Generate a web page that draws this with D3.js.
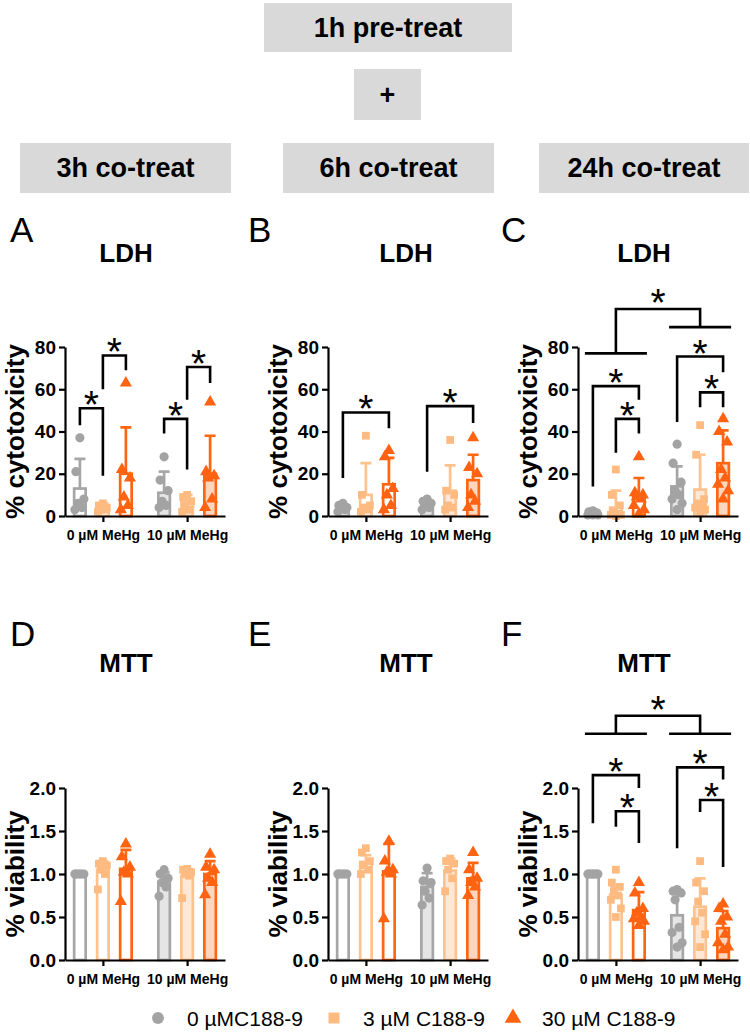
<!DOCTYPE html>
<html lang="en">
<head>
<meta charset="UTF-8" />
<title>LDH / MTT co-treatment</title>
<script src="https://d3js.org/d3.v7.min.js"></script>
<style>
  body { margin: 0; background: #fff; }
  svg { display: block; font-family: "Liberation Sans", Arial, sans-serif; }
</style>
</head>
<body>
<script>
// categories
const groups = ["0 µM MeHg", "10 µM MeHg"];
const series = ["0 µMC188-9", "3 µM C188-9", "30 µM C188-9"];
const ldhTicks = [0, 20, 40, 60, 80];
const mttTicks = [0, 0.5, 1.0, 1.5, 2.0];

// LDH 3h (A) : [group][series]
const ldh3hMean = [[13, 4, 20], [11, 7, 20]];
const ldh3hSd = [[14, 2, 22], [10, 3, 18]];
const ldh3hPts = [
  [[37, 21, 8, 6, 4, 3], [6, 5, 4, 3, 3, 2], [63, 22, 18, 9, 5, 3]],
  [[28, 17, 12, 7, 5, 4], [10, 9, 7, 5, 3, 2], [54, 21, 19, 18, 8, 4]]
];
// [group, seriesA, seriesB, legA, legB, top]
const ldh3hSig = [[0, 0, 1, 43, 19, 51], [0, 1, 2, 60, 69, 76], [1, 0, 1, 39, 22, 46], [1, 1, 2, 55, 63, 70.5]];

// LDH 6h (B)
const ldh6hMean = [[4, 10, 15], [5, 12, 17]];
const ldh6hSd = [[1.5, 15, 12.5], [1.5, 12, 12]];
const ldh6hPts = [
  [[6, 5, 4, 4, 3, 2], [38, 10, 5, 4, 3, 2], [31, 28, 13, 10, 5, 3]],
  [[8, 7, 6, 5, 4, 3], [36, 12, 10, 5, 4, 3], [37, 23, 20, 10, 7, 4]]
];
const ldh6hSig = [[0, 0, 2, 18, 41.5, 49], [1, 0, 2, 21, 44, 52]];

// LDH 24h (C)
const ldh24hMean = [[1, 4, 9.5], [14, 12.5, 25]];
const ldh24hSd = [[0.8, 8, 8.5], [9.5, 16.5, 15.5]];
const ldh24hPts = [
  [[2.5, 2, 1.5, 1, 1, 0.5, 0.5, 0.5], [22, 10, 5, 2, 1, 0.5, 0.5, 0], [28, 11, 10, 9, 8, 5, 3, 1]],
  [[34, 25, 16, 12, 10, 8, 6, 3], [43, 29, 8, 6, 5, 4, 3, 2], [46, 40, 35, 22, 18, 15, 12, 8]]
];
const ldh24hSig = [[0, 0, 2, 14, 55, 61.5], [0, 1, 2, 30, 39, 46], [1, 0, 2, 44.5, 68, 75.5], [1, 1, 2, 51.5, 51.5, 58.5]];
// [left group line, right group line, top]
const ldh24hGroupSig = [77, 89.4, 98];

// MTT 3h (D)
const mtt3hMean = [[1.0, 1.05, 1.06], [0.91, 0.98, 1.0]];
const mtt3hSd = [[0, 0.1, 0.22], [0.11, 0.08, 0.15]];
const mtt3hPts = [
  [[1, 1, 1, 1, 1, 1], [1.15, 1.12, 1.1, 1.05, 1.0, 0.82], [1.35, 1.2, 1.08, 1.02, 1.0, 0.68]],
  [[1.05, 1.0, 0.95, 0.9, 0.85, 0.74], [1.06, 1.05, 1.02, 1.0, 0.98, 0.72], [1.23, 1.08, 1.05, 0.95, 0.9, 0.76]]
];

// MTT 6h (E)
const mtt6hMean = [[1.0, 1.14, 1.03], [0.85, 1.04, 0.95]];
const mtt6hSd = [[0, 0.08, 0.32], [0.16, 0.14, 0.18]];
const mtt6hPts = [
  [[1, 1, 1, 1, 1, 1], [1.3, 1.25, 1.15, 1.1, 1.05, 1.0], [1.38, 1.15, 1.05, 1.02, 1.0, 0.48]],
  [[1.07, 0.92, 0.9, 0.8, 0.72, 0.64], [1.18, 1.15, 1.12, 1.05, 0.95, 0.8], [1.25, 1.05, 0.95, 0.9, 0.85, 0.75]]
];

// MTT 24h (F)
const mtt24hMean = [[1.0, 0.76, 0.58], [0.52, 0.62, 0.37]];
const mtt24hSd = [[0, 0.09, 0.21], [0.28, 0.33, 0.2]];
const mtt24hPts = [
  [[1, 1, 1, 1, 1, 1, 1, 1], [1.05, 0.9, 0.85, 0.8, 0.75, 0.7, 0.6, 0.5], [0.9, 0.78, 0.6, 0.55, 0.5, 0.48, 0.45, 0.4]],
  [[0.82, 0.8, 0.78, 0.7, 0.38, 0.32, 0.2, 0.15], [1.15, 0.9, 0.8, 0.68, 0.55, 0.45, 0.3, 0.15], [0.65, 0.6, 0.5, 0.45, 0.3, 0.2, 0.15, 0.12]]
];
const mtt24hSig = [[0, 0, 2, 1.59, 2.0, 2.15], [0, 1, 2, 1.55, 1.36, 1.73], [1, 0, 2, 1.3, 2.1, 2.24], [1, 1, 2, 1.72, 1.08, 1.86]];
const mtt24hGroupSig = [2.63, 2.63, 2.84];

// header boxes
const topBoxes = ["1h pre-treat", "+"];
const coTreat = ["3h co-treat", "6h co-treat", "24h co-treat"];

// styling
const strokeCol = ["#a6a6a6", "#fdc28e", "#ff6611"];
const pointCol = ["#a3a3a3", "#fdbb82", "#ff6311"];
const fillCol = [["#ffffff", "#ffffff", "#ffffff"], ["#e5e5e5", "#fde8d6", "#fdd6bf"]];
const symbols = [d3.symbolCircle, d3.symbolSquare, d3.symbolTriangle];
const symSize = [66, 60, 64];

const svg = d3.select("body").append("svg")
  .attr("width", 750).attr("height", 1033);

// ---- header boxes ----
const boxFill = "#d9d9d9";
const hdr = [
  {t: topBoxes[0], x: 264, y: 3, w: 248, h: 49, ty: 37},
  {t: topBoxes[1], x: 354, y: 69, w: 67, h: 51, ty: 104},
  {t: coTreat[0], x: 20, y: 143, w: 211, h: 50, ty: 177},
  {t: coTreat[1], x: 283, y: 143, w: 211, h: 50, ty: 177},
  {t: coTreat[2], x: 539, y: 143, w: 210, h: 50, ty: 177}
];
hdr.forEach(b => {
  svg.append("rect").attr("x", b.x).attr("y", b.y).attr("width", b.w).attr("height", b.h)
    .attr("fill", boxFill);
  svg.append("text").attr("x", b.x + b.w / 2).attr("y", b.ty)
    .attr("text-anchor", "middle").attr("font-size", 27).attr("font-weight", "bold")
    .text(b.t);
});

// ---- panels ----
const rows = [
  {yTop: 347, yBot: 516, titleY: 262, letterY: 242, domain: [0, 80], ticks: ldhTicks,
   fmt: d3.format("d"), ylab: "% cytotoxicity", title: "LDH"},
  {yTop: 788, yBot: 960, titleY: 672, letterY: 646, domain: [0, 2], ticks: mttTicks,
   fmt: d3.format(".1f"), ylab: "% viability", title: "MTT"}
];

const panels = [
  {letter: "A", row: 0, x0: 65, letterX: 10, titleX: 126, mean: ldh3hMean, sd: ldh3hSd, pts: ldh3hPts, sig: ldh3hSig},
  {letter: "B", row: 0, x0: 328, letterX: 248, titleX: 406, mean: ldh6hMean, sd: ldh6hSd, pts: ldh6hPts, sig: ldh6hSig},
  {letter: "C", row: 0, x0: 578, letterX: 501, titleX: 644, mean: ldh24hMean, sd: ldh24hSd, pts: ldh24hPts, sig: ldh24hSig, gsig: ldh24hGroupSig},
  {letter: "D", row: 1, x0: 65, letterX: 10, titleX: 126, mean: mtt3hMean, sd: mtt3hSd, pts: mtt3hPts, sig: []},
  {letter: "E", row: 1, x0: 328, letterX: 248, titleX: 406, mean: mtt6hMean, sd: mtt6hSd, pts: mtt6hPts, sig: []},
  {letter: "F", row: 1, x0: 578, letterX: 501, titleX: 644, mean: mtt24hMean, sd: mtt24hSd, pts: mtt24hPts, sig: mtt24hSig, gsig: mtt24hGroupSig}
];

const jitter = [0, -4, 4, -2, 2, -5, 5, 0];

function star(g, x, yc) {
  g.append("text").attr("x", x).attr("y", yc + 22)
    .attr("text-anchor", "middle").attr("font-size", 39).text("*");
}

function drawPanel(p) {
  const r = rows[p.row];
  const g = svg.append("g");
  const y = d3.scaleLinear().domain(r.domain).range([r.yBot, r.yTop]);
  const x = d3.scalePoint().domain(groups).range([p.x0, p.x0 + 160]).padding(0.45);
  const xs = d3.scalePoint().domain(series).range([-23, 23]);
  const bx = (gi, si) => x(groups[gi]) + xs(series[si]);

  // letter and title
  g.append("text").attr("x", p.letterX).attr("y", r.letterY)
    .attr("font-size", 35).text(p.letter);
  g.append("text").attr("x", p.titleX).attr("y", r.titleY)
    .attr("text-anchor", "middle").attr("font-size", 26).attr("font-weight", "bold").text(r.title);

  // y label
  g.append("text")
    .attr("transform", `translate(${p.x0 - 41},${(r.yTop + r.yBot) / 2}) rotate(-90)`)
    .attr("text-anchor", "middle").attr("font-size", 26).attr("font-weight", "bold")
    .text(r.ylab);

  // bars, error bars, points
  const bw = 11.5;
  groups.forEach((gr, gi) => {
    series.forEach((s, si) => {
      const m = p.mean[gi][si];
      const cx = bx(gi, si);
      g.append("rect")
        .attr("x", cx - bw / 2).attr("y", y(m))
        .attr("width", bw).attr("height", y(0) - y(m))
        .attr("fill", fillCol[gi][si]).attr("stroke", strokeCol[si]).attr("stroke-width", 2.7);
      const top = y(m + p.sd[gi][si]);
      g.append("path")
        .attr("d", `M${cx},${y(m)}V${top}M${cx - 5.5},${top}H${cx + 5.5}`)
        .attr("stroke", strokeCol[si]).attr("stroke-width", 2.7).attr("fill", "none");
      p.pts[gi][si].forEach((v, i) => {
        g.append("path")
          .attr("d", d3.symbol().type(symbols[si]).size(symSize[si])())
          .attr("transform", `translate(${cx + jitter[i % jitter.length]},${y(v)})`)
          .attr("fill", pointCol[si]);
      });
    });
  });

  // axes
  const ya = g.append("g").attr("transform", `translate(${p.x0},0)`)
    .call(d3.axisLeft(y).tickValues(r.ticks).tickFormat(r.fmt).tickSize(6).tickSizeOuter(0).tickPadding(3));
  const xa = g.append("g").attr("transform", `translate(0,${r.yBot})`)
    .call(d3.axisBottom(x).tickSize(6).tickSizeOuter(0).tickPadding(8));
  [ya, xa].forEach(a => {
    a.selectAll("path, line").attr("stroke", "#000").attr("stroke-width", 2.2);
    a.selectAll("text").attr("fill", "#000").attr("font-weight", "bold")
      .attr("font-family", "'Liberation Sans', Arial, sans-serif");
  });
  ya.selectAll("text").attr("font-size", 19);
  xa.selectAll("text").attr("font-size", 14);

  // significance brackets
  p.sig.forEach(([gi, sa, sb, la, lb, t]) => {
    const xa1 = bx(gi, sa), xb1 = bx(gi, sb);
    g.append("path")
      .attr("d", `M${xa1},${y(la)}V${y(t)}H${xb1}V${y(lb)}`)
      .attr("stroke", "#000").attr("stroke-width", 2.6).attr("fill", "none");
    star(g, (xa1 + xb1) / 2, y(t) - 12);
  });
  if (p.gsig) {
    const [l0, l1, t] = p.gsig;
    const x0 = x(groups[0]), x1 = x(groups[1]);
    g.append("path")
      .attr("d", `M${x0 - 31},${y(l0)}H${x0 + 31}M${x1 - 31},${y(l1)}H${x1 + 31}` +
                 `M${x0},${y(l0)}V${y(t)}H${x1}V${y(l1)}`)
      .attr("stroke", "#000").attr("stroke-width", 2.6).attr("fill", "none");
    star(g, (x0 + x1) / 2, y(t) - 15);
  }
}

panels.forEach(drawPanel);

// ---- legend ----
const legend = svg.append("g").attr("transform", "translate(0,1018)");
const legX = [158, 334, 513];
series.forEach((s, si) => {
  legend.append("path")
    .attr("d", d3.symbol().type(symbols[si]).size(si === 0 ? 110 : 120)())
    .attr("transform", `translate(${legX[si]},0)`)
    .attr("fill", pointCol[si]);
  legend.append("text").attr("x", legX[si] + 29).attr("y", 7.5)
    .attr("font-size", 21).text(s);
});
</script>
</body>
</html>
